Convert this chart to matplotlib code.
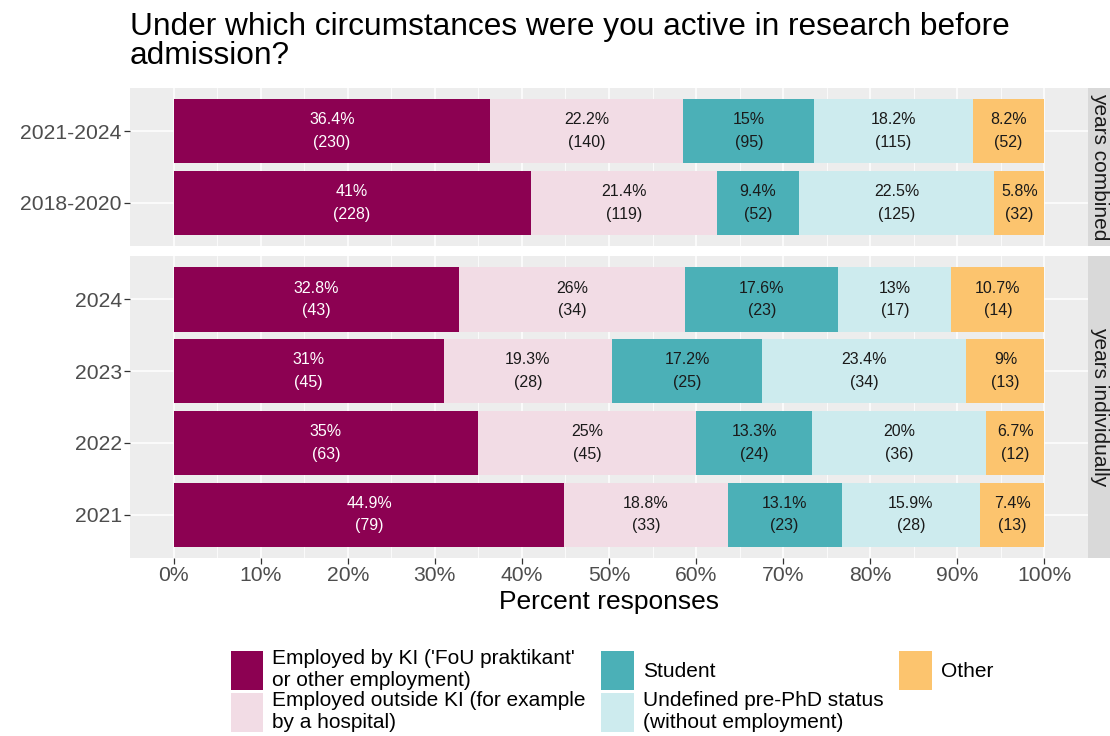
import matplotlib
matplotlib.use("Agg")
import matplotlib.pyplot as plt
from matplotlib.patches import Patch
import numpy as np

plt.rcParams['font.family'] = ['Liberation Sans', 'DejaVu Sans']

# ---- data ----
categories = [
    "Employed by KI ('FoU praktikant'\nor other employment)",
    "Employed outside KI (for example\nby a hospital)",
    "Student",
    "Undefined pre-PhD status\n(without employment)",
    "Other",
]
colors = ["#8C0152", "#F2DCE5", "#4BB0B7", "#CDEBEE", "#FCC46E"]
text_colors = ["white", "#1A1A1A", "#1A1A1A", "#1A1A1A", "#1A1A1A"]

combined_labels = ["2021-2024", "2018-2020"]
combined_counts = [
    [230, 140, 95, 115, 52],
    [228, 119, 52, 125, 32],
]
individual_labels = ["2024", "2023", "2022", "2021"]
individual_counts = [
    [43, 34, 23, 17, 14],
    [45, 28, 25, 34, 13],
    [63, 45, 24, 36, 12],
    [79, 33, 23, 28, 13],
]
x_ticks = [0, 10, 20, 30, 40, 50, 60, 70, 80, 90, 100]
strip_labels = ["years combined", "years individually"]
title = "Under which circumstances were you active in research before\nadmission?"

W, H = 1110, 736
fig = plt.figure(figsize=(W / 100, H / 100), dpi=100)

def fx(px):
    return px / W

def fy(py):
    return 1 - py / H

panel_bg = "#EDEDED"
strip_bg = "#D9D9D9"

def fmt_pct(p):
    s = f"{p:.1f}".rstrip('0').rstrip('.')
    return s + "%"

def draw_panel(ax, labels, counts):
    n = len(labels)
    ax.set_facecolor(panel_bg)
    ax.set_xlim(-5, 105)
    ax.set_ylim(n - 1 + 0.6, -0.6)
    ax.set_xticks(x_ticks)
    ax.set_xticks([5, 15, 25, 35, 45, 55, 65, 75, 85, 95], minor=True)
    ax.set_yticks(range(n))
    ax.set_yticklabels(labels)
    ax.grid(True, which='major', axis='both', color='white', lw=1.1, zorder=0)
    ax.grid(True, which='minor', axis='x', color='white', lw=0.55, zorder=0)
    ax.set_axisbelow(True)
    for sp in ax.spines.values():
        sp.set_visible(False)
    ax.tick_params(axis='both', which='major', length=4, width=0.9, color='#333333',
                   labelcolor='#4D4D4D', labelsize=15.2, pad=2)
    ax.tick_params(axis='both', which='minor', length=0)
    for i, row in enumerate(counts):
        total = sum(row)
        left = 0.0
        for j, c in enumerate(row):
            p = 100.0 * c / total
            ax.barh(i, p, left=left, height=0.9, color=colors[j], zorder=2)
            ax.text(left + p / 2, i, f"{fmt_pct(p)}\n({c})", ha='center', va='center',
                    fontsize=11.5, color=text_colors[j], linespacing=1.6, zorder=3)
            left += p

# panel 1
ax1 = fig.add_axes([fx(130), fy(246), fx(1088) - fx(130), fy(88) - fy(246)])
draw_panel(ax1, combined_labels, combined_counts)
ax1.tick_params(axis='x', labelbottom=False, length=0)

# panel 2
ax2 = fig.add_axes([fx(130), fy(558), fx(1088) - fx(130), fy(256) - fy(558)])
draw_panel(ax2, individual_labels, individual_counts)
ax2.set_xticklabels([f"{t}%" for t in x_ticks])
ax2.set_xlabel("Percent responses", fontsize=19, color='black', labelpad=3)

# strips
for (top, bot), lab in zip([(88, 246), (256, 558)], strip_labels):
    sax = fig.add_axes([fx(1088), fy(bot), fx(1134) - fx(1088), fy(top) - fy(bot)])
    sax.set_facecolor(strip_bg)
    sax.set_xticks([]); sax.set_yticks([])
    for sp in sax.spines.values():
        sp.set_visible(False)
    fig.text(fx(1100), (fy(top) + fy(bot)) / 2, lab, rotation=-90, ha='center', va='center',
             fontsize=15, color='#1A1A1A')

# title
fig.text(fx(130), fy(12), title, ha='left', va='top', fontsize=22.8, color='black',
         linespacing=0.95)

# legend
handles = [Patch(facecolor=c, edgecolor='none') for c in colors]
fig.legend(handles, categories, loc='upper left', bbox_to_anchor=(fx(216), fy(634)),
           ncol=3, frameon=False, fontsize=15, handlelength=1.55, handleheight=2.5,
           handletextpad=0.45, columnspacing=0.75, labelspacing=0.05, borderpad=0.2)

fig.savefig("out.png", dpi=100, facecolor='white')
